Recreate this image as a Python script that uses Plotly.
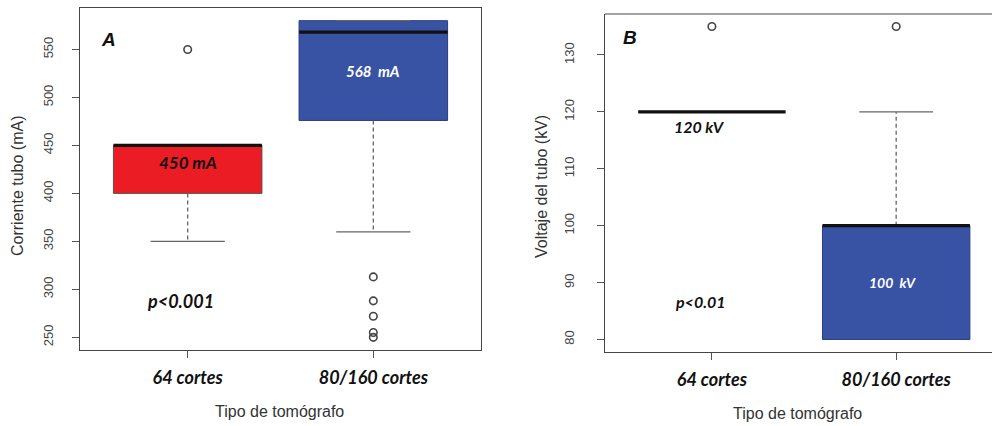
import plotly.graph_objects as go

categories = ["64 cortes", "80/160 cortes"]
positions = [1, 2]

# Panel A: tube current (mA)
current_q1 = [400, 476]
current_median = [450, 568]
current_q3 = [450, 580]
current_lower = [350, 360]
current_upper = [450, 580]
current_outliers = [[550], [313, 288, 272, 255, 250]]

# Panel B: tube voltage (kV)
voltage_q1 = [120, 80]
voltage_median = [120, 100]
voltage_q3 = [120, 100]
voltage_lower = [120, 80]
voltage_upper = [120, 120]
voltage_outliers = [[135], [135]]

current_ticks = [250, 300, 350, 400, 450, 500, 550]
voltage_ticks = [80, 90, 100, 110, 120, 130]

box_colors_a = ["#ec1c24", "#3953a4"]
box_colors_b = ["#3953a4", "#3953a4"]
BOXW = 0.8

fig = go.Figure()


def add_panel(xa, ya, q1, med, q3, lo, hi, outs, colors, outline_colors):
    for i, p in enumerate(positions):
        if q3[i] > q1[i]:
            fig.add_trace(go.Box(
                x=[p], q1=[q1[i]], median=[med[i]], q3=[q3[i]],
                lowerfence=[q1[i]], upperfence=[q3[i]],
                width=BOXW, whiskerwidth=0, fillcolor=colors[i],
                line=dict(color=outline_colors[i], width=1),
                xaxis=xa, yaxis=ya, showlegend=False, hoverinfo="skip",
                boxpoints=False))
        if hi[i] > q3[i]:
            fig.add_trace(go.Scatter(x=[p, p], y=[q3[i], hi[i]], mode="lines",
                                     line=dict(color="#666666", width=1.3, dash="4px,3px"),
                                     xaxis=xa, yaxis=ya, showlegend=False, hoverinfo="skip"))
        if hi[i] >= q3[i] and hi[i] > q1[i]:
            fig.add_trace(go.Scatter(x=[p - BOXW / 4, p + BOXW / 4], y=[hi[i], hi[i]], mode="lines",
                                     line=dict(color="#666666", width=1.3),
                                     xaxis=xa, yaxis=ya, showlegend=False, hoverinfo="skip"))
        if lo[i] < q1[i]:
            fig.add_trace(go.Scatter(x=[p, p], y=[q1[i], lo[i]], mode="lines",
                                     line=dict(color="#666666", width=1.3, dash="4px,3px"),
                                     xaxis=xa, yaxis=ya, showlegend=False, hoverinfo="skip"))
            fig.add_trace(go.Scatter(x=[p - BOXW / 4, p + BOXW / 4], y=[lo[i], lo[i]], mode="lines",
                                     line=dict(color="#666666", width=1.3),
                                     xaxis=xa, yaxis=ya, showlegend=False, hoverinfo="skip"))
        fig.add_trace(go.Scatter(x=[p - BOXW / 2, p + BOXW / 2], y=[med[i], med[i]], mode="lines",
                                 line=dict(color="#111111", width=3.2),
                                 xaxis=xa, yaxis=ya, showlegend=False, hoverinfo="skip"))
        fig.add_trace(go.Scatter(x=[p] * len(outs[i]), y=outs[i], mode="markers",
                                 marker=dict(symbol="circle-open", size=7.5, color="#444444",
                                             line=dict(width=1.6, color="#444444")),
                                 xaxis=xa, yaxis=ya, showlegend=False, hoverinfo="skip"))


add_panel("x", "y", current_q1, current_median, current_q3, current_lower, current_upper,
          current_outliers, box_colors_a, ["#555555", "#2a3d80"])
add_panel("x2", "y2", voltage_q1, voltage_median, voltage_q3, voltage_lower, voltage_upper,
          voltage_outliers, box_colors_b, ["#2a3d80", "#2a3d80"])

W, H = 992, 426
tickfont_x = dict(family="Lato", size=18, color="#111111")
tickfont_y = dict(family="Liberation Sans", size=13, color="#444444")

common_x = dict(tickvals=positions, ticktext=["<b><i>%s</i></b>" % c for c in categories],
                tickfont=tickfont_x, ticks="outside", ticklen=7, tickcolor="#555555",
                showgrid=False, zeroline=False, showline=True, linecolor="#444444", linewidth=1.2,
                ticklabelstandoff=4)
common_y = dict(tickangle=-90, tickfont=tickfont_y, ticks="outside", ticklen=7, tickcolor="#555555",
                showgrid=False, zeroline=False, showline=True, linecolor="#444444", linewidth=1.2)

fig.update_layout(
    width=W, height=H, margin=dict(l=0, r=0, t=0, b=0),
    paper_bgcolor="white", plot_bgcolor="white",
    xaxis=dict(domain=[80 / W, 481 / W], range=[0.42, 2.58], anchor="y", mirror=True, **common_x),
    yaxis=dict(domain=[(H - 350) / H, (H - 8) / H], range=[236.8, 593.2], anchor="x",
               tickvals=current_ticks, mirror=True, ticklabelstandoff=14, **common_y),
    xaxis2=dict(domain=[605 / W, 1.0], range=[0.42, 2.52], anchor="y2", **common_x),
    yaxis2=dict(domain=[(H - 352) / H, (H - 14) / H], range=[77.8, 137.2], anchor="x2",
                tickvals=voltage_ticks, ticklabelstandoff=18, **common_y),
    showlegend=False,
)

fig.add_shape(type="line", xref="x2 domain", yref="y2 domain", x0=0, x1=1, y0=1, y1=1,
              line=dict(color="#444444", width=1.2))

ttl = dict(family="Liberation Sans", size=16, color="#333333")
ann = [
    dict(x=0.575, y=560, xref="x", yref="y", text="<b><i>A</i></b>", showarrow=False,
         font=dict(family="Liberation Sans", size=19, color="#111111")),
    dict(x=1, y=432, xref="x", yref="y", text="<b><i>450 mA</i></b>", showarrow=False,
         font=dict(color="#111111", family="Lato", size=17)),
    dict(x=2, y=528, xref="x", yref="y", text="<b><i>568  mA</i></b>", showarrow=False,
         font=dict(color="white", family="Lato", size=15)),
    dict(x=0.96, y=288, xref="x", yref="y", text="<b><i>p&lt;0.001</i></b>", showarrow=False,
         font=dict(color="#111111", family="Lato", size=18)),
    dict(x=0.554, y=133, xref="x2", yref="y2", text="<b><i>B</i></b>", showarrow=False,
         font=dict(family="Liberation Sans", size=19, color="#111111")),
    dict(x=0.935, y=117.4, xref="x2", yref="y2", text="<b><i>120 kV</i></b>", showarrow=False,
         font=dict(color="#111111", family="Lato", size=16)),
    dict(x=0.94, y=86.7, xref="x2", yref="y2", text="<b><i>p&lt;0.01</i></b>", showarrow=False,
         font=dict(color="#111111", family="Lato", size=16)),
    dict(x=1.98, y=90, xref="x2", yref="y2", text="<b><i>100  kV</i></b>", showarrow=False,
         font=dict(color="white", family="Lato", size=14)),
    dict(x=17 / W, y=(H - 186) / H, xref="paper", yref="paper", text="Corriente tubo (mA)",
         textangle=-90, showarrow=False, xanchor="center", yanchor="middle", font=ttl),
    dict(x=541 / W, y=(H - 187) / H, xref="paper", yref="paper", text="Voltaje del tubo (kV)",
         textangle=-90, showarrow=False, xanchor="center", yanchor="middle", font=ttl),
    dict(x=279 / W, y=(H - 411) / H, xref="paper", yref="paper", text="Tipo de tomógrafo",
         showarrow=False, xanchor="center", yanchor="middle", font=ttl),
    dict(x=797 / W, y=(H - 413) / H, xref="paper", yref="paper", text="Tipo de tomógrafo",
         showarrow=False, xanchor="center", yanchor="middle", font=ttl),
]
fig.update_layout(annotations=ann)

fig.write_html("out.html", config={"displayModeBar": False},
               post_script="document.body.style.margin='0';document.body.style.overflow='hidden';")
